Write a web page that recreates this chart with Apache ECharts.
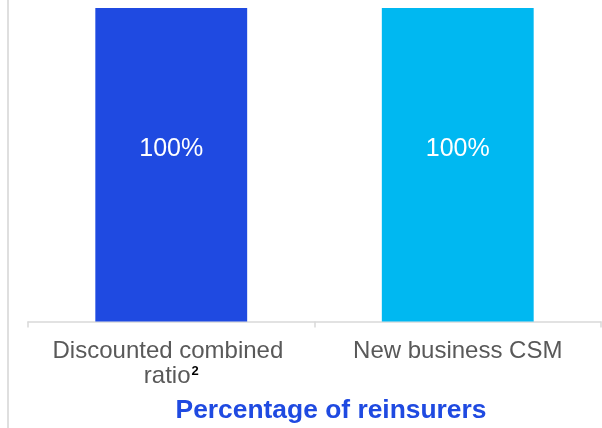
<!DOCTYPE html>
<html>
<head>
<meta charset="utf-8">
<title>Percentage of reinsurers</title>
<script src="https://cdn.jsdelivr.net/npm/echarts@6/dist/echarts.min.js"></script>
<style>
  html, body { margin: 0; padding: 0; background: #ffffff; }
  #chart { width: 602px; height: 428px; }
</style>
</head>
<body>
<div id="chart"></div>
<script>
// Categories and values
const categories = ['Discounted combined \nratio{sup|2}', 'New business CSM'];
const shareValues = [100, 100];
const barColors = ['#1F4AE1', '#00B8F1'];
const chartTitle = 'Percentage of reinsurers';

const FONT = '"Liberation Sans", Arial, sans-serif';

const chart = echarts.init(document.getElementById('chart'), null, { renderer: 'canvas' });

chart.setOption({
  animation: false,
  backgroundColor: '#ffffff',
  grid: { left: 28, right: 1, top: 8, bottom: 106.5, containLabel: false },
  xAxis: {
    type: 'category',
    data: categories,
    boundaryGap: true,
    axisLine: { show: true, lineStyle: { color: '#d9d9d9', width: 1.5 } },
    axisTick: { show: true, length: 6, lineStyle: { color: '#d9d9d9', width: 1.5 } },
    axisLabel: {
      interval: 0,
      hideOverlap: false,
      margin: 17,
      fontFamily: FONT,
      fontSize: 24,
      lineHeight: 25,
      color: '#595959',
      align: 'center',
      rich: {
        sup: {
          fontFamily: FONT,
          fontSize: 13,
          fontWeight: 'bold',
          color: '#000000',
          verticalAlign: 'top',
          lineHeight: 13,
          padding: [1, 0, 0, 1]
        }
      }
    }
  },
  yAxis: {
    type: 'value',
    min: 0,
    max: 100,
    show: false,
    splitLine: { show: false }
  },
  series: [{
    type: 'bar',
    barWidth: '53%',
    data: shareValues.map((v, i) => ({ value: v, itemStyle: { color: barColors[i] } })),
    label: {
      show: true,
      position: ['50%', 141.5],
      align: 'center',
      verticalAlign: 'middle',
      fontFamily: FONT,
      fontSize: 25,
      color: '#ffffff',
      formatter: p => p.value + '%'
    }
  }],
  graphic: [
    {
      type: 'line',
      shape: { x1: 8, y1: 0, x2: 8, y2: 428 },
      style: { stroke: '#bfbfbf', lineWidth: 1 },
      silent: true
    },
    {
      type: 'text',
      x: 331,
      y: 410.5,
      style: {
        text: chartTitle,
        fontFamily: FONT,
        fontSize: 26.4,
        fontWeight: 'bold',
        fill: '#1F4AE1',
        align: 'center',
        verticalAlign: 'middle'
      }
    }
  ]
});
</script>
</body>
</html>
